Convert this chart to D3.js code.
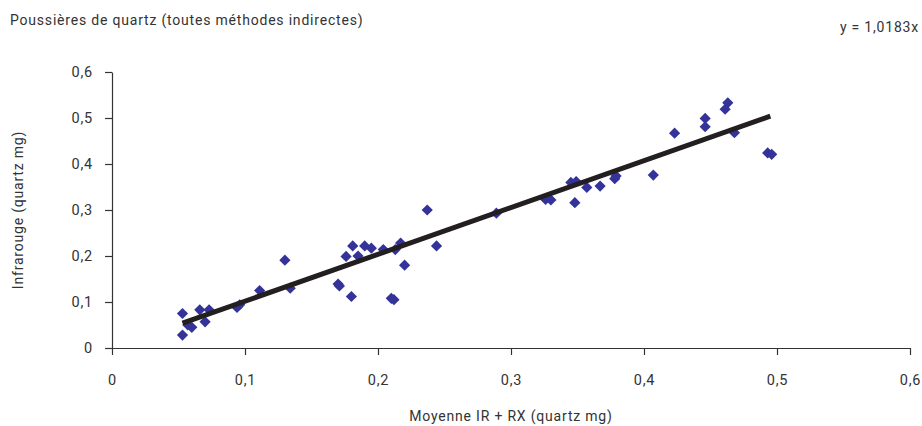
<!doctype html>
<html lang="fr">
<head>
<meta charset="utf-8">
<title>Poussières de quartz</title>
<script src="https://cdn.jsdelivr.net/npm/d3@7"></script>
<style>
    body { margin: 0; background: #fff; }
    svg text { font-family: Roboto, "Liberation Sans", sans-serif; fill: #333; letter-spacing: 0.8px; }
    .axis path, .axis line { stroke: #333; stroke-width: 1.2px; }
    .axis text { font-size: 14.5px; }
</style>
</head>
<body>
<svg width="922" height="426"></svg>
<script>
// mean IR + RX (x) vs infrared (y), quartz mg
var xValues = [0.053, 0.053, 0.057, 0.060, 0.066, 0.073, 0.070, 0.094, 0.096, 0.111,
               0.130, 0.134, 0.170, 0.171, 0.180, 0.176, 0.181, 0.185, 0.190, 0.195,
               0.204, 0.213, 0.217, 0.220, 0.210, 0.212, 0.237, 0.244, 0.289, 0.326,
               0.330, 0.348, 0.345, 0.349, 0.357, 0.367, 0.378, 0.379, 0.407, 0.423,
               0.446, 0.446, 0.463, 0.461, 0.468, 0.493, 0.496];
var yValues = [0.075, 0.028, 0.050, 0.045, 0.083, 0.083, 0.057, 0.088, 0.094, 0.125,
               0.191, 0.130, 0.139, 0.135, 0.112, 0.199, 0.222, 0.200, 0.222, 0.217,
               0.214, 0.214, 0.228, 0.180, 0.108, 0.105, 0.300, 0.222, 0.293, 0.323,
               0.322, 0.316, 0.360, 0.362, 0.349, 0.352, 0.368, 0.374, 0.376, 0.467,
               0.499, 0.481, 0.533, 0.519, 0.468, 0.424, 0.421];
var slope = 1.0183;
var trendRange = [0.053, 0.495];
var tickValues = [0, 0.1, 0.2, 0.3, 0.4, 0.5, 0.6];

var svg = d3.select("svg");
var margin = {left: 112, top: 72, right: 12, bottom: 78};
var width = 922 - margin.left - margin.right;
var height = 426 - margin.top - margin.bottom;

var g = svg.append("g")
    .attr("transform", "translate(" + margin.left + "," + margin.top + ")");

var x = d3.scaleLinear().domain([0, 0.6]).range([0, width]);
var y = d3.scaleLinear().domain([0, 0.6]).range([height, 0]);
var fmt = function(d) { return d === 0 ? "0" : d3.format(".1f")(d).replace(".", ","); };

g.append("g")
    .attr("class", "axis")
    .attr("transform", "translate(0," + height + ")")
    .call(d3.axisBottom(x).tickValues(tickValues).tickFormat(fmt).tickSize(7).tickSizeOuter(0).tickPadding(20));

g.append("g")
    .attr("class", "axis")
    .call(d3.axisLeft(y).tickValues(tickValues).tickFormat(fmt).tickSize(7).tickSizeOuter(0).tickPadding(12));

// points
var diamond = d3.symbol().type(d3.symbolDiamond2).size(80);
g.append("g")
    .selectAll("path")
    .data(xValues)
    .enter().append("path")
    .attr("transform", function(d, i) { return "translate(" + x(d) + "," + y(yValues[i]) + ")"; })
    .attr("d", diamond)
    .attr("fill", "#333399");

// trend line
g.append("line")
    .attr("x1", x(trendRange[0])).attr("y1", y(trendRange[0] * slope))
    .attr("x2", x(trendRange[1])).attr("y2", y(trendRange[1] * slope))
    .attr("stroke", "#231f20")
    .attr("stroke-width", 5);

svg.append("text")
    .attr("x", 10).attr("y", 25)
    .style("font-size", "14px")
    .text("Poussières de quartz (toutes méthodes indirectes)");

svg.append("text")
    .attr("x", 919).attr("y", 32)
    .attr("text-anchor", "end")
    .style("font-size", "14px")
    .text("y = 1,0183x");

svg.append("text")
    .attr("x", margin.left + width / 2).attr("y", 421)
    .attr("text-anchor", "middle")
    .style("font-size", "14px")
    .text("Moyenne IR + RX (quartz mg)");

svg.append("text")
    .attr("transform", "translate(23," + (margin.top + height / 2) + ") rotate(-90)")
    .attr("text-anchor", "middle")
    .style("font-size", "14px")
    .text("Infrarouge (quartz mg)");
</script>
</body>
</html>
